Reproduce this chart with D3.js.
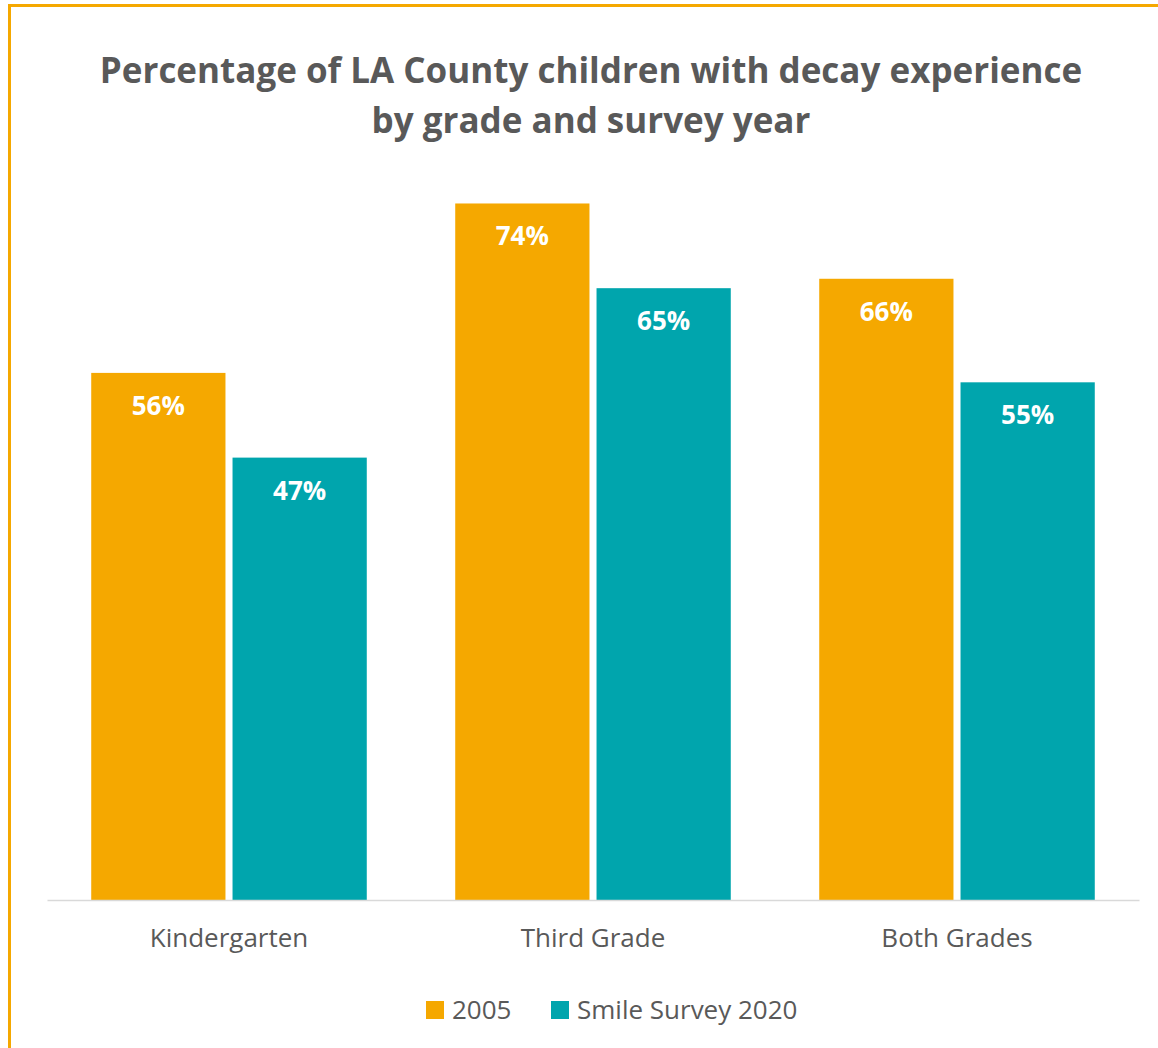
<!DOCTYPE html>
<html>
<head>
<meta charset="utf-8">
<script src="https://cdn.jsdelivr.net/npm/d3@7"></script>
<style>
  body { margin: 0; background: #fff; }
  text { font-family: "Open Sans", "Noto Sans", sans-serif; }
</style>
</head>
<body>
<div id="chart"></div>
<script>
var grades = ["Kindergarten", "Third Grade", "Both Grades"];
var series = ["2005", "Smile Survey 2020"];
var values2005 = [56, 74, 66];
var values2020 = [47, 65, 55];
var titleLines = ["Percentage of LA County children with decay experience", "by grade and survey year"];

var colors = ["#F5A800", "#00A5AD"];

const width = 1158;
const height = 1048;

var rows = grades.map((g, i) => {
    return {grade: g, vals: [values2005[i], values2020[i]]};
});

const svg = d3.select("#chart").append("svg")
    .attr("width", width)
    .attr("height", height);

// orange frame (left + top only visible)
svg.append("line").attr("x1", 9.5).attr("x2", 9.5).attr("y1", 4).attr("y2", height)
    .attr("stroke", "#F5A800").attr("stroke-width", 3);
svg.append("line").attr("x1", 8).attr("x2", width).attr("y1", 5.5).attr("y2", 5.5)
    .attr("stroke", "#F5A800").attr("stroke-width", 3);

var x0 = d3.scaleBand().domain(grades).range([47, 1139])
    .paddingInner(0.243).paddingOuter(0.1215);
var x1 = d3.scaleBand().domain(series).range([0, x0.bandwidth()]).paddingInner(0.05);
var y = d3.scaleLinear().domain([0, 80]).range([900, 147]);

// title
svg.selectAll("text.title")
    .data(titleLines)
    .enter()
    .append("text")
    .attr("class", "title")
    .attr("x", 591)
    .attr("y", (d, i) => 83 + i * 50)
    .attr("text-anchor", "middle")
    .attr("fill", "#595959")
    .attr("font-weight", "bold")
    .attr("font-size", 35)
    .text(d => d);

const groups = svg.selectAll("g.grade")
    .data(rows)
    .enter()
    .append("g")
    .attr("class", "grade")
    .attr("transform", d => `translate(${x0(d.grade)},0)`);

const bars = groups.selectAll("g.bar")
    .data(d => d.vals.map((v, i) => ({s: series[i], v: v, i: i})))
    .enter()
    .append("g")
    .attr("class", "bar");

bars.append("rect")
    .attr("x", d => x1(d.s))
    .attr("y", d => y(d.v))
    .attr("width", x1.bandwidth())
    .attr("height", d => y(0) - y(d.v))
    .attr("fill", d => colors[d.i]);

bars.append("text")
    .attr("x", d => x1(d.s) + x1.bandwidth() / 2)
    .attr("y", d => y(d.v) + 42)
    .attr("text-anchor", "middle")
    .attr("fill", "#fff")
    .attr("font-weight", "bold")
    .attr("font-size", 26)
    .text(d => d.v + "%");

// baseline axis
const axis = svg.append("g")
    .attr("transform", `translate(0,${y(0)})`)
    .call(d3.axisBottom(x0).tickSize(0).tickPadding(29).tickSizeOuter(0));
axis.select(".domain").attr("stroke", "#d9d9d9").attr("stroke-width", 1.5);
axis.selectAll("text")
    .attr("font-size", 26)
    .attr("fill", "#595959")
    .style("font-family", "'Open Sans', sans-serif");

// legend
var legendX = [426, 551];
const legend = svg.selectAll("g.legend")
    .data(series)
    .enter()
    .append("g")
    .attr("class", "legend")
    .attr("transform", (d, i) => `translate(${legendX[i]},1001)`);

legend.append("rect")
    .attr("width", 18)
    .attr("height", 18)
    .attr("fill", (d, i) => colors[i]);

legend.append("text")
    .attr("x", 26)
    .attr("y", 18)
    .attr("font-size", 26)
    .attr("fill", "#595959")
    .text(d => d);
</script>
</body>
</html>
